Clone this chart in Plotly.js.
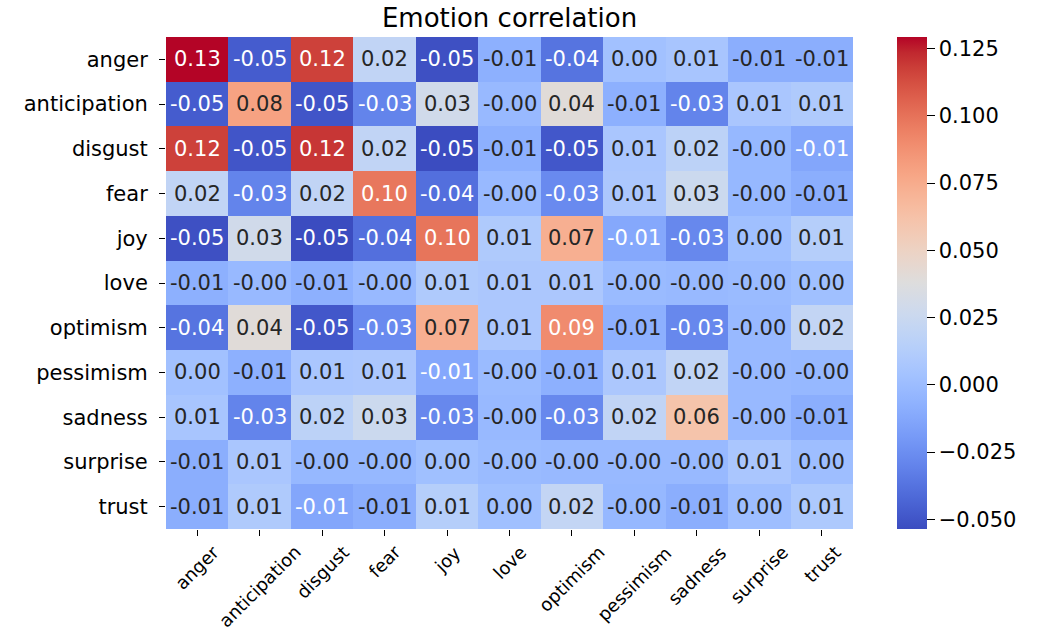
<!DOCTYPE html>
<html>
<head>
<meta charset="utf-8">
<script src="https://cdn.plot.ly/plotly-3.0.1.min.js"></script>
<style>html,body{margin:0;padding:0;background:#fff;}#chart{width:1040px;height:632px;}</style>
</head>
<body>
<div id="chart"></div>
<script>
// Category labels (x and y)
const emotions = ["anger","anticipation","disgust","fear","joy","love","optimism","pessimism","sadness","surprise","trust"];

// Matrix rows
const angerRow        = [ 0.1293,-0.047, 0.117, 0.020,-0.052,-0.008,-0.037, 0.003, 0.006,-0.009,-0.009];
const anticipationRow = [-0.047, 0.080,-0.050,-0.030, 0.029,-0.002, 0.040,-0.008,-0.030, 0.007, 0.010];
const disgustRow      = [ 0.117,-0.050, 0.120, 0.020,-0.0536,-0.008,-0.049, 0.007, 0.017,-0.003,-0.013];
const fearRow         = [ 0.020,-0.030, 0.020, 0.098,-0.039,-0.002,-0.027, 0.008, 0.026,-0.003,-0.009];
const joyRow          = [-0.052, 0.029,-0.0536,-0.039, 0.099, 0.010, 0.073,-0.012,-0.028, 0.002, 0.013];
const loveRow         = [-0.008,-0.002,-0.008,-0.002, 0.010, 0.008, 0.008,-0.001,-0.002,-0.001, 0.002];
const optimismRow     = [-0.037, 0.040,-0.049,-0.027, 0.073, 0.008, 0.090,-0.008,-0.028,-0.002, 0.021];
const pessimismRow    = [ 0.003,-0.008, 0.007, 0.008,-0.012,-0.001,-0.008, 0.008, 0.020,-0.002,-0.003];
const sadnessRow      = [ 0.006,-0.030, 0.017, 0.026,-0.028,-0.002,-0.028, 0.020, 0.061,-0.002,-0.009];
const surpriseRow     = [-0.009, 0.007,-0.003,-0.003, 0.002,-0.001,-0.002,-0.002,-0.002, 0.007, 0.001];
const trustRow        = [-0.009, 0.010,-0.013,-0.009, 0.013, 0.002, 0.021,-0.003,-0.009, 0.001, 0.009];

// Colorbar tick values
const cbTicks = [-0.050,-0.025,0.000,0.025,0.050,0.075,0.100,0.125];

const z = [angerRow, anticipationRow, disgustRow, fearRow, joyRow, loveRow,
           optimismRow, pessimismRow, sadnessRow, surpriseRow, trustRow];

const zmin = -0.0536, zmax = 0.1293;

// coolwarm (Moreland) colour table
const cw = [[59,76,192],[68,90,204],[77,104,215],[87,117,225],[98,130,234],[108,142,241],
 [119,154,247],[130,165,251],[141,176,254],[152,185,255],[163,194,255],[174,201,253],
 [184,208,249],[194,213,244],[204,217,238],[213,219,230],[221,221,221],[229,216,209],
 [236,211,197],[241,204,184],[245,196,172],[247,187,159],[247,177,147],[247,166,134],
 [244,154,123],[241,141,111],[236,127,99],[229,112,88],[222,96,77],[213,80,66],
 [203,62,56],[192,40,47],[180,4,38]];
const colorscale = cw.map((c,i)=>[i/(cw.length-1), `rgb(${c[0]},${c[1]},${c[2]})`]);

function colorAt(v){
  let f = (v - zmin)/(zmax - zmin);
  f = Math.max(0, Math.min(1, f));
  const p = f*(cw.length-1), i = Math.min(cw.length-2, Math.floor(p)), t = p - i;
  return cw[i].map((a,k)=> a + (cw[i+1][k]-a)*t);
}
function lum(rgb){
  const l = rgb.map(c=>{c/=255; return c<=0.03928? c/12.92 : Math.pow((c+0.055)/1.055,2.4);});
  return 0.2126*l[0]+0.7152*l[1]+0.0722*l[2];
}

const FONT = "DejaVu Sans, Liberation Sans, sans-serif";
const annotations = [];
for (let r=0;r<emotions.length;r++){
  for (let c=0;c<emotions.length;c++){
    const v = z[r][c];
    annotations.push({
      x: emotions[c], y: emotions[r], xref:'x', yref:'y',
      text: v.toFixed(2), showarrow:false,
      font:{family:FONT, size:21, color: lum(colorAt(v)) > 0.408 ? '#262626' : '#ffffff'}
    });
  }
}
for (let c=0;c<emotions.length;c++){
  annotations.push({
    x: emotions[c], y: 0, xref:'x', yref:'paper',
    text: emotions[c], showarrow:false, textangle:-45,
    xanchor:'center', yanchor:'top', yshift:-10,
    font:{family:FONT, size:18, color:'#000'}
  });
}

const trace = {
  type:'heatmap', x: emotions, y: emotions, z: z,
  zmin: zmin, zmax: zmax, colorscale: colorscale,
  hoverinfo:'skip', xgap:0, ygap:0,
  colorbar:{
    thickness:30, thicknessmode:'pixels', len:1, lenmode:'fraction',
    x:1.064, xanchor:'left', y:0.5, yanchor:'middle', xpad:0, ypad:0,
    outlinewidth:0, ticks:'outside', ticklen:8, tickcolor:'#000',
    tickvals: cbTicks, tickformat:'.3f',
    tickfont:{family:FONT, size:21, color:'#000'}
  }
};

const layout = {
  width:1040, height:632,
  margin:{l:166, r:187, t:37, b:103, pad:0},
  paper_bgcolor:'#fff', plot_bgcolor:'#fff',
  title:{text:'Emotion correlation', font:{family:FONT, size:26, color:'#000'},
         xref:'paper', x:0.5, xanchor:'center', yref:'container', y:0.9715, yanchor:'middle'},
  xaxis:{type:'category', showticklabels:false, ticks:'outside', ticklen:6, tickcolor:'#000',
         showgrid:false, zeroline:false, showline:false, fixedrange:true},
  yaxis:{type:'category', autorange:'reversed', ticks:'outside', ticklen:6, tickcolor:'#000',
         ticklabelstandoff:7, tickfont:{family:FONT, size:21, color:'#000'},
         showgrid:false, zeroline:false, showline:false, fixedrange:true},
  annotations: annotations,
  showlegend:false
};

Plotly.newPlot('chart', [trace], layout, {displayModeBar:false, staticPlot:true});
</script>
</body>
</html>
